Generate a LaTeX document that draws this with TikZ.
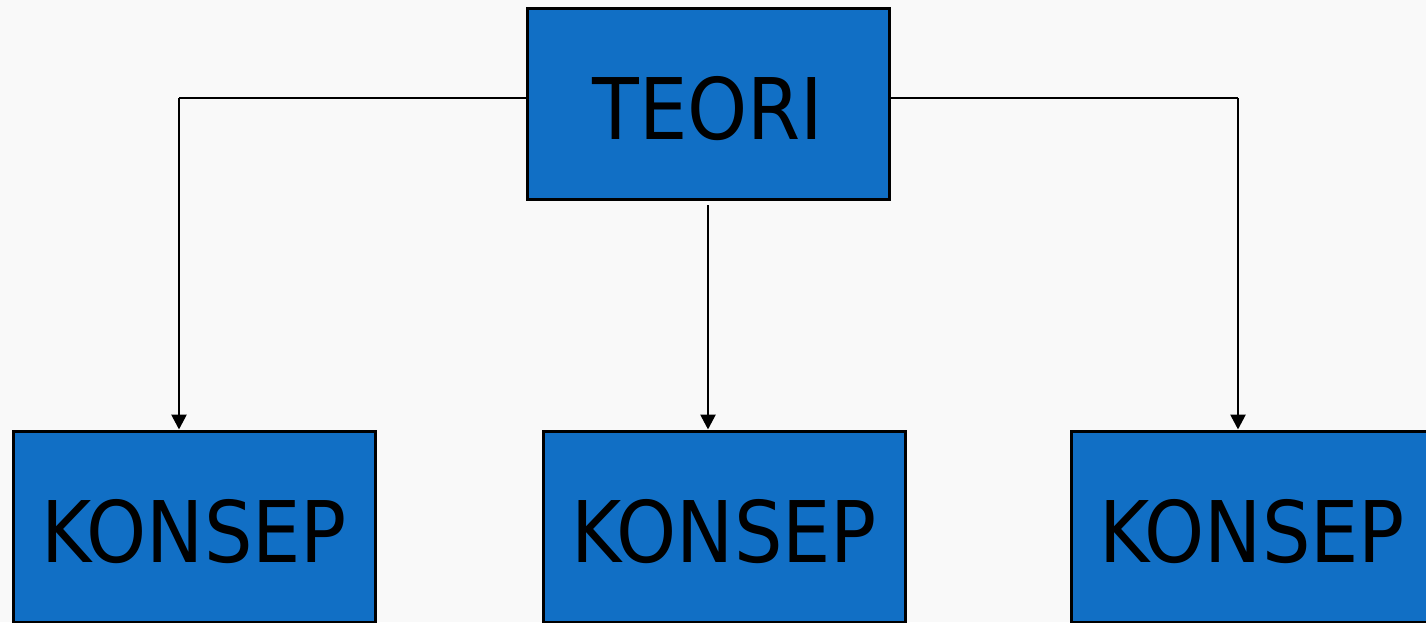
\documentclass[tikz,border=0pt]{standalone}
\usepackage{fontspec}
\setmainfont{DejaVu Sans Condensed}
\usetikzlibrary{arrows.meta}
\definecolor{boxblue}{HTML}{116FC5}
\definecolor{paper}{HTML}{F9F9F9}
\tikzset{
  box/.style={draw=black, line width=3pt, fill=boxblue, minimum width=362pt,
    minimum height=191pt, inner sep=0pt, text height=71pt, text depth=0pt,
    font=\fontsize{85}{85}\selectfont, text=black},
  link/.style={draw=black, line width=2.7pt},
  linkarrow/.style={link, -{Triangle[length=15pt, width=15pt]}}
}
\begin{document}
\begin{tikzpicture}[x=1pt, y=-1pt]
  \useasboundingbox (0,0) rectangle (1426,622);
  \clip (0,0) rectangle (1426,622);
  \fill[paper] (0,0) rectangle (1426,622);
  % top node and the three concept nodes
  \node[box] (teori) at (708,103.5) {TEORI};
  \node[box] (k1) at (194,526.5) {KONSEP};
  \node[box] (k2) at (724,526.5) {KONSEP};
  \node[box] (k3) at (1252,526.5) {KONSEP};
  % corner points of the side connectors
  \coordinate (cl) at (179,98);
  \coordinate (cr) at (1238,98);
  \coordinate (mtop) at (708,205);
  \draw[link] (teori.west |- cl) -- (cl);
  \draw[linkarrow] (cl) -- (cl |- k1.north);
  \draw[linkarrow] (mtop) -- (mtop |- k2.north);
  \draw[link] (teori.east |- cr) -- (cr);
  \draw[linkarrow] (cr) -- (cr |- k3.north);
\end{tikzpicture}
\end{document}
